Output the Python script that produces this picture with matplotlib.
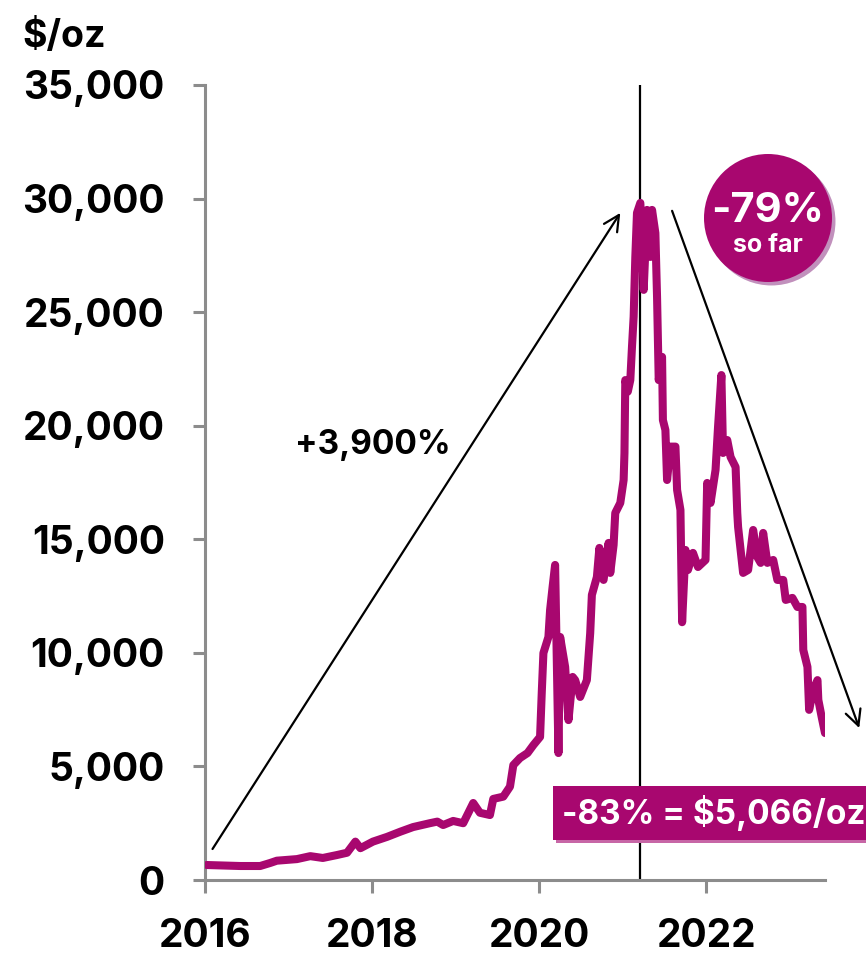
import numpy as np
import matplotlib
matplotlib.use('Agg')
import matplotlib.pyplot as plt
import matplotlib.patches as mpatches
import matplotlib.patheffects as pe

plt.rcParams['font.family'] = ['Inter', 'DejaVu Sans']
plt.rcParams['font.weight'] = 'bold'

purple = '#A8076F'
grey = '#8C8C8C'

# rhodium price, decimal year vs $/oz
t = [2016.02, 2016.42, 2016.66, 2016.78, 2016.86, 2017.10, 2017.26, 2017.41, 2017.58, 2017.70,
     2017.80, 2017.86, 2018.01, 2018.18, 2018.34, 2018.49, 2018.69, 2018.78, 2018.85, 2018.97,
     2019.09, 2019.21, 2019.29, 2019.41, 2019.45, 2019.57, 2019.65, 2019.69, 2019.77, 2019.86,
     2019.93, 2020.01, 2020.03, 2020.05, 2020.11, 2020.13, 2020.16, 2020.19, 2020.23, 2020.25,
     2020.31, 2020.35, 2020.40, 2020.43, 2020.49, 2020.57, 2020.61, 2020.63, 2020.69, 2020.72,
     2020.77, 2020.83, 2020.85, 2020.89, 2020.91, 2020.97, 2021.01, 2021.02, 2021.03, 2021.06,
     2021.09, 2021.11, 2021.13, 2021.15, 2021.17, 2021.21, 2021.25, 2021.29, 2021.33, 2021.35,
     2021.39, 2021.41, 2021.43, 2021.47, 2021.48, 2021.51, 2021.53, 2021.57, 2021.63, 2021.65,
     2021.69, 2021.71, 2021.75, 2021.78, 2021.84, 2021.90, 2021.99, 2022.01, 2022.05, 2022.11,
     2022.14, 2022.18, 2022.20, 2022.25, 2022.29, 2022.35, 2022.37, 2022.38, 2022.44, 2022.50,
     2022.56, 2022.61, 2022.65, 2022.68, 2022.73, 2022.80, 2022.85, 2022.92, 2022.95, 2023.03,
     2023.09, 2023.15, 2023.16, 2023.21, 2023.23, 2023.28, 2023.33, 2023.34, 2023.38, 2023.42]
price = [660, 616, 616, 750, 850, 920, 1050, 970, 1100, 1200,
         1690, 1400, 1690, 1900, 2130, 2330, 2500, 2570, 2420, 2600,
         2500, 3390, 2960, 2860, 3570, 3670, 4110, 5060, 5370, 5590,
         5940, 6300, 8230, 9990, 10700, 11890, 12900, 13870, 5590, 10700,
         9380, 7040, 8940, 8800, 8060, 8800, 10870, 12550, 13340, 14620,
         13210, 14840, 13520, 14750, 16160, 16600, 17610, 18800, 22010, 21500,
         22010, 23470, 24800, 27430, 29370, 29810, 25980, 29500, 27430, 29500,
         28480, 25670, 22010, 23030, 20250, 19810, 17610, 19080, 19080, 17170,
         16290, 11350, 14530, 13650, 14400, 13780, 14090, 17480, 16600, 18050,
         19950, 22230, 18800, 19370, 18620, 18180, 16160, 15540, 13520, 13650,
         15410, 14220, 13960, 15280, 13960, 14090, 13210, 13210, 12330, 12420,
         12020, 12020, 10130, 9380, 7490, 8370, 8800, 7930, 7180, 6470]

x_ticks = [2016, 2018, 2020, 2022]
y_ticks = [0, 5000, 10000, 15000, 20000, 25000, 30000, 35000]
rise_label = '+3,900%'
fall_label = '-83% = $5,066/oz'
so_far_pct = '-79%'
so_far_txt = 'so far'

fig = plt.figure(figsize=(8.66, 9.55), dpi=100)
ax = fig.add_axes([205 / 866, 75 / 955, 620 / 866, 795 / 955])

ax.plot(t, price, color=purple, lw=5.8, solid_joinstyle='round', solid_capstyle='round', zorder=3)

# peak marker
peak = t[int(np.argmax(price))]
ax.axvline(peak, color='black', lw=1.6, zorder=2)

ax.set_xlim(2016, 2023.42)
ax.set_ylim(0, 35000)
ax.set_xticks(x_ticks)
ax.set_xticklabels([str(x) for x in x_ticks])
ax.set_yticks(y_ticks)
ax.set_yticklabels([f'{v:,}' for v in y_ticks])
for s in ['top', 'right']:
    ax.spines[s].set_visible(False)
for s in ['left', 'bottom']:
    ax.spines[s].set_color(grey)
    ax.spines[s].set_linewidth(2.2)
ax.tick_params(axis='both', colors=grey, width=2.2, length=9, labelsize=28, labelcolor='black')
ax.tick_params(axis='y', pad=20)
ax.tick_params(axis='x', pad=18)
for lab in ax.get_xticklabels() + ax.get_yticklabels():
    lab.set_fontweight('bold')

fig.text(22 / 866, (955 - 47) / 955, '$/oz', fontsize=27, fontweight='bold', va='baseline', ha='left')

# arrows
ax.annotate('', xy=(2020.97, 29370), xytext=(2016.09, 1365), annotation_clip=False,
            arrowprops=dict(arrowstyle='->', color='black', lw=1.6, mutation_scale=28, shrinkA=0, shrinkB=0))
ax.annotate('', xy=(2023.83, 6690), xytext=(2021.59, 29460), annotation_clip=False,
            arrowprops=dict(arrowstyle='->', color='black', lw=1.6, mutation_scale=28, shrinkA=0, shrinkB=0))
ax.text(2018.01, 19130, rise_label, fontsize=24, fontweight='bold', ha='center', va='center')

# bottom label box
box_txt = ax.text(2020.27, 2950, fall_label, fontsize=24, fontweight='bold', color='white',
                  ha='left', va='center', zorder=6, clip_on=False,
                  bbox=dict(boxstyle='square,pad=0.27', facecolor=purple, edgecolor='none'))
box_txt.get_bbox_patch().set_path_effects([
    pe.SimplePatchShadow(offset=(2.2, -2.2), shadow_rgbFace='#C766A6', alpha=1), pe.Normal()])

# "so far" badge
circ = mpatches.Circle((7.68, 7.37), 0.64, transform=fig.dpi_scale_trans, facecolor=purple,
                       edgecolor='none', zorder=6, clip_on=False,
                       path_effects=[pe.SimplePatchShadow(offset=(2.5, -2.5), shadow_rgbFace='#C190BC', alpha=1),
                                     pe.Normal()])
fig.add_artist(circ)
fig.text(7.68, 7.44, so_far_pct, transform=fig.dpi_scale_trans, fontsize=30, fontweight='bold',
         color='white', ha='center', va='center', zorder=7)
fig.text(7.68, 7.10, so_far_txt, transform=fig.dpi_scale_trans, fontsize=18, fontweight='bold',
         color='white', ha='center', va='center', zorder=7)

fig.savefig('out.png', dpi=100)
